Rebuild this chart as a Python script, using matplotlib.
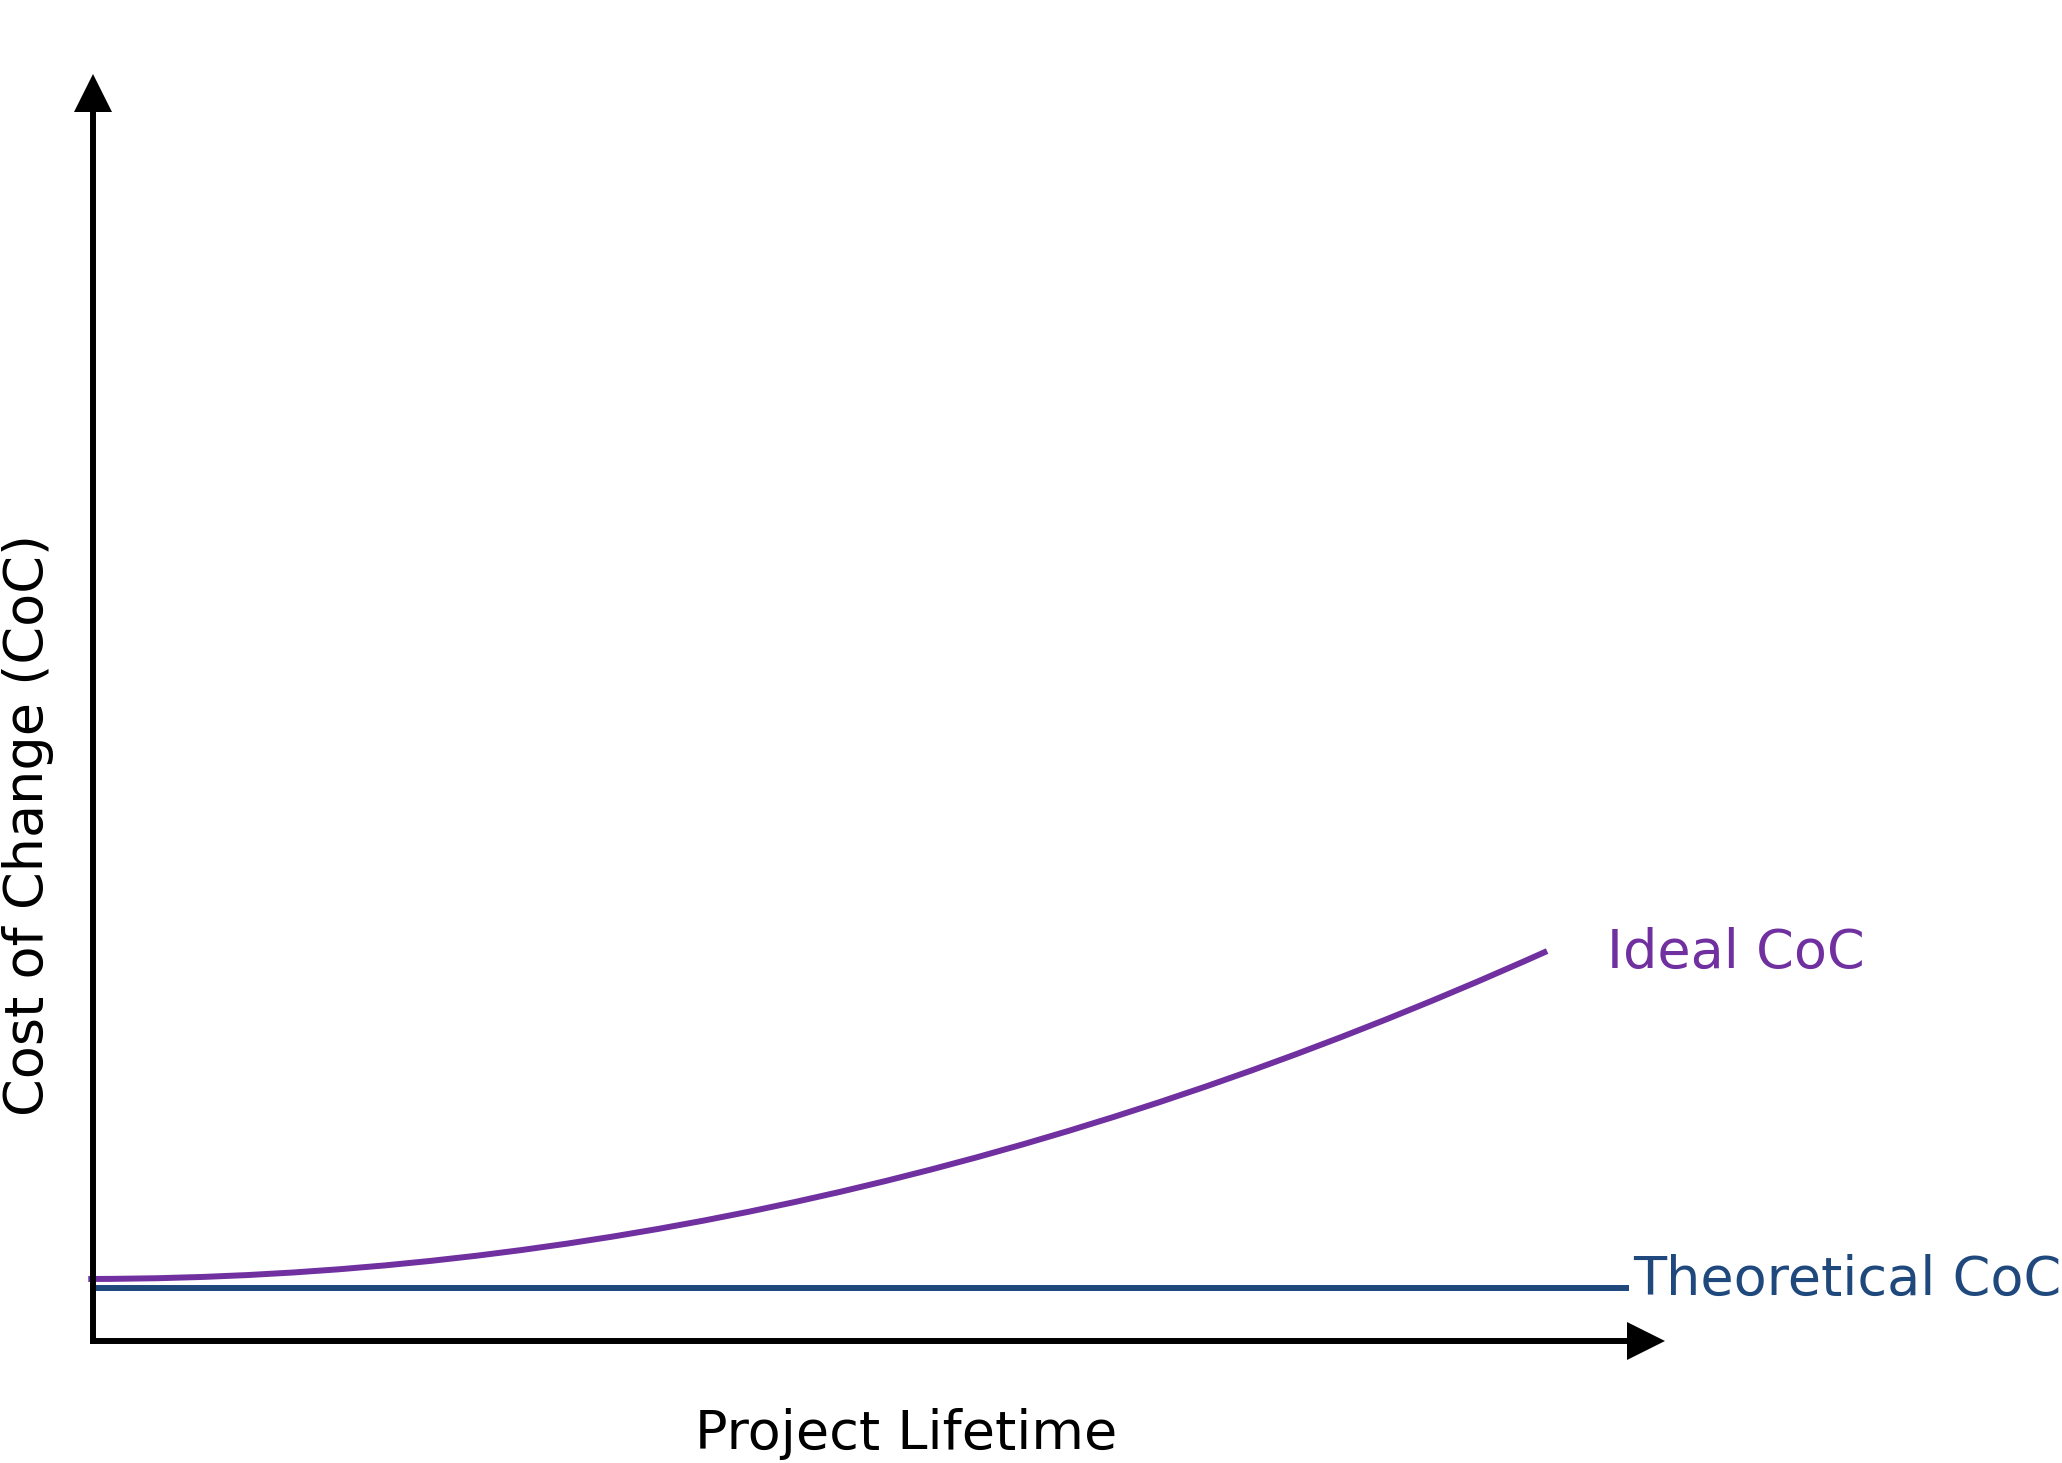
import matplotlib.pyplot as plt
from matplotlib.path import Path
from matplotlib.patches import PathPatch

# ideal cost of change: quadratic curve given by start, control and end point
# (x = fraction of project lifetime, y = fraction of axis height)
ideal_x = [-0.003, 0.4609, 0.925]
ideal_y = [0.049, 0.049, 0.308]

theory_x = [-0.002, 0.977]
theory_y = [0.0419, 0.0419]

labels = ["Ideal CoC", "Theoretical CoC"]
x_label = "Project Lifetime"
y_label = "Cost of Change (CoC)"

PURPLE = "#7030A0"
BLUE = "#1F497D"
FS = 39
LW = 4.3


def main():
    fig = plt.figure(figsize=(20.62, 14.63), dpi=100)
    ax = fig.add_axes([93 / 2062, 122 / 1463, 1572 / 2062, 1266 / 1463])
    ax.set_xlim(0, 1)
    ax.set_ylim(0, 1)
    ax.set_xticks([])
    ax.set_yticks([])

    for side in ["top", "right"]:
        ax.spines[side].set_visible(False)
    ax.spines["left"].set_linewidth(LW)
    ax.spines["bottom"].set_linewidth(LW)
    ax.spines["left"].set_bounds(0, 0.9708)
    ax.spines["bottom"].set_bounds(0, 0.975)

    # arrow heads
    ax.plot(0, 0.9854, marker="^", ms=27.4, color="black", mew=0, clip_on=False)
    ax.plot(0.9876, 0, marker=">", ms=27.4, color="black", mew=0, clip_on=False)

    ideal_path = Path(list(zip(ideal_x, ideal_y)),
                      [Path.MOVETO, Path.CURVE3, Path.CURVE3])
    ax.add_patch(PathPatch(ideal_path, facecolor="none", edgecolor=PURPLE,
                           lw=LW, clip_on=False, capstyle="butt"))
    ax.plot(theory_x, theory_y, color=BLUE, lw=LW, clip_on=False,
            solid_capstyle="butt")

    ax.text(0.9631, 0.2949, labels[0], color=PURPLE, fontsize=FS,
            ha="left", va="baseline")
    ax.text(0.9796, 0.0364, labels[1], color=BLUE, fontsize=FS,
            ha="left", va="baseline", clip_on=False)
    ax.text(0.5172, -0.0854, x_label, color="black", fontsize=FS,
            ha="center", va="baseline")
    fig.text(43 / 2062, 0.4361, y_label, color="black", fontsize=FS,
             rotation=90, rotation_mode="anchor", ha="center", va="baseline")

    fig.savefig("out.png", dpi=100)
    plt.close(fig)


if __name__ == "__main__":
    main()
